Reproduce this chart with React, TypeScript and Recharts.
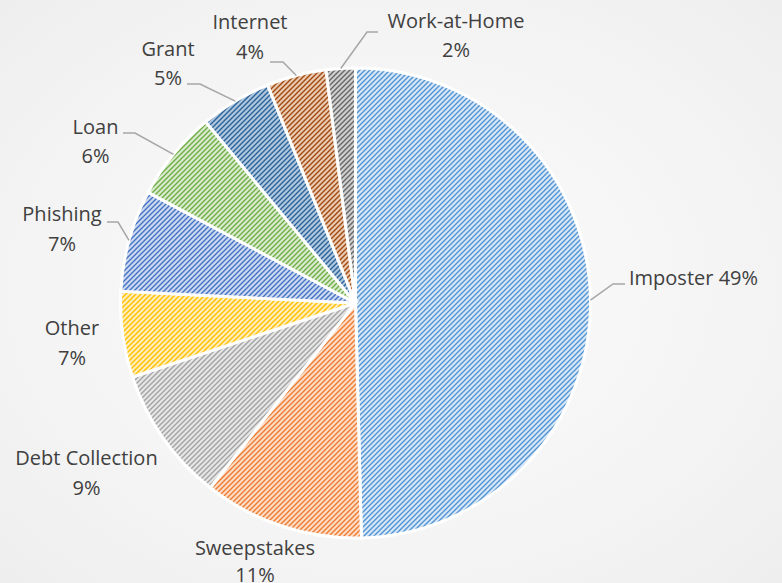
import { PieChart, Pie, Cell } from "recharts";

// scam categories, clockwise from 12 o'clock
const categories = ["Imposter", "Sweepstakes", "Debt Collection", "Other", "Phishing", "Loan", "Grant", "Internet", "Work-at-Home"];
// slice shares as drawn
const shares = [49.6, 11.0, 9.3, 5.9, 7.0, 6.2, 4.9, 4.1, 2.0];
// percentage text printed on the labels
const pctLabels = ["49%", "11%", "9%", "7%", "7%", "6%", "5%", "4%", "2%"];

const stripeColors = ["#5293d3", "#ee7c30", "#a3a3a3", "#ffc000", "#4472c4", "#70ad47", "#2a629a", "#a04a12", "#666666"];
const tintColors = ["#d7e7f6", "#fcdcc7", "#e6e6e6", "#ffeebb", "#ccd9f0", "#d9ebcd", "#b0c7de", "#ebcab2", "#cfcfcf"];

const data = categories.map((name, i) => ({ name, value: shares[i] }));

const CX = 355.5;
const CY = 303;
const R = 235;
const RAD = Math.PI / 180;

// label placement relative to the pie centre (text x, cap-centre y of each line, optional leader elbow/end)
type Layout = { x: number; y: number[]; anchor: "start" | "middle"; oneLine?: boolean; leader?: number[][] };
const layout: Layout[] = [
  { x: 273.5, y: [-25], anchor: "start", oneLine: true, leader: [[257.5, -19], [269.5, -19]] },
  { x: -100.5, y: [245, 272], anchor: "middle" },
  { x: -269, y: [155, 185], anchor: "middle" },
  { x: -283.5, y: [25, 55], anchor: "middle" },
  { x: -293.5, y: [-89, -59], anchor: "middle", leader: [[-237.5, -81], [-248.5, -81]] },
  { x: -260, y: [-176, -147], anchor: "middle", leader: [[-220.5, -170], [-232.5, -170]] },
  { x: -187.5, y: [-254, -225], anchor: "middle", leader: [[-155.5, -219], [-168.5, -219]] },
  { x: -105.5, y: [-281, -251], anchor: "middle", leader: [[-72.5, -241], [-85.5, -241]] },
  { x: 100.5, y: [-282, -253], anchor: "middle", leader: [[11.5, -271], [22.5, -271]] },
];

const FONT = "'Open Sans', sans-serif";
const P = 5; // hatch tile size

const renderLabel = (props: any) => {
  const { cx, cy, midAngle, outerRadius, index } = props;
  const l = layout[index];
  const sx = cx + outerRadius * Math.cos(-midAngle * RAD);
  const sy = cy + outerRadius * Math.sin(-midAngle * RAD);
  const lines = l.oneLine ? [`${categories[index]} ${pctLabels[index]}`] : [categories[index], pctLabels[index]];
  return (
    <g key={`lbl-${index}`}>
      {l.leader && (
        <polyline
          points={[[sx, sy], ...l.leader.map(([dx, dy]) => [cx + dx, cy + dy])].map((p) => p.join(",")).join(" ")}
          fill="none"
          stroke="#a6a6a6"
          strokeWidth={1.5}
        />
      )}
      {lines.map((t, k) => (
        <text
          key={k}
          x={cx + l.x}
          y={cy + l.y[k] + 7}
          textAnchor={l.anchor}
          fontFamily={FONT}
          fontSize={20}
          fill="#404040"
        >
          {t}
        </text>
      ))}
    </g>
  );
};

export default function App() {
  return (
    <div
      style={{
        position: "absolute",
        left: 0,
        top: 0,
        width: 782,
        height: 583,
        background: "radial-gradient(ellipse at 50% 50%, #fcfcfc 0%, #f3f3f3 70%, #eeeeee 100%)",
      }}
    >
      <PieChart width={782} height={583} margin={{ top: 0, right: 0, bottom: 0, left: 0 }}>
        <defs>
          {stripeColors.map((c, i) => (
            <pattern key={i} id={`hatch-${i}`} patternUnits="userSpaceOnUse" width={P} height={P}>
              <rect width={P} height={P} fill={tintColors[i]} />
              <path
                d={`M0,${P} L${P},0 M-1,1 L1,-1 M${P - 1},${P + 1} L${P + 1},${P - 1}`}
                stroke={c}
                strokeWidth={1.4}
              />
            </pattern>
          ))}
        </defs>
        <Pie
          data={data}
          dataKey="value"
          nameKey="name"
          cx={CX}
          cy={CY}
          outerRadius={R}
          startAngle={90}
          endAngle={-270}
          stroke="#ffffff"
          strokeWidth={3}
          label={renderLabel}
          labelLine={false}
          isAnimationActive={false}
        >
          {data.map((d, i) => (
            <Cell key={d.name} fill={`url(#hatch-${i})`} />
          ))}
        </Pie>
      </PieChart>
    </div>
  );
}
